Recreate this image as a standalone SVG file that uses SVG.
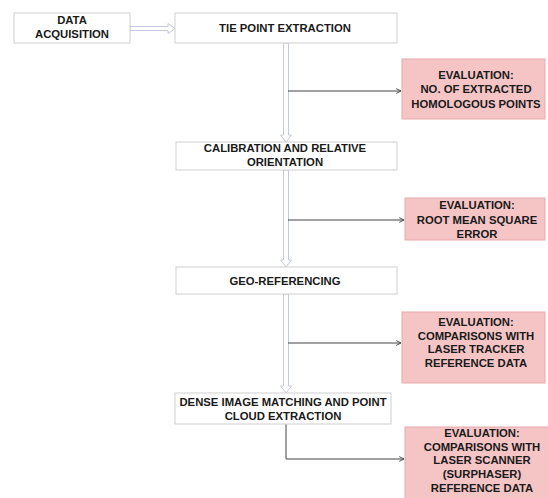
<svg xmlns="http://www.w3.org/2000/svg" width="548" height="498" viewBox="0 0 548 498">
<defs>
<style>
.box{fill:#ffffff;stroke:#cfcfcf;stroke-width:1}
.ev{fill:#f5c5c6;stroke:#e6aaab;stroke-width:1}
.t{font-family:"Liberation Sans",Arial,sans-serif;font-weight:bold;font-size:11.3px;fill:#1a1a1a;text-anchor:middle}
.hollow{fill:#ffffff;stroke:#c3cade;stroke-width:1}
.thin{fill:none;stroke:#444444;stroke-width:1}
</style>
<marker id="ah" viewBox="0 0 10 10" refX="9" refY="5" markerWidth="6" markerHeight="6" orient="auto" markerUnits="userSpaceOnUse">
<path d="M1,1 L9,5 L1,9" fill="none" stroke="#444444" stroke-width="1.5"/>
</marker>
</defs>
<rect width="548" height="498" fill="#ffffff"/>
<g id="connectors">
<path class="hollow" d="M130,26.5 H168 V23.5 L175,28.5 L168,33.5 V30.5 H130 Z"/>
<path class="hollow" d="M283.5,43 H288.5 V135 H291.5 L286,142 L280.5,135 H283.5 Z"/>
<path class="hollow" d="M283.5,170 H288.5 V260 H291.5 L286,267 L280.5,260 H283.5 Z"/>
<path class="hollow" d="M283.5,294 H288.5 V386 H291.5 L286,393 L280.5,386 H283.5 Z"/>
<path class="thin" d="M288,91 H401" marker-end="url(#ah)"/>
<path class="thin" d="M288,220 H404" marker-end="url(#ah)"/>
<path class="thin" d="M288,343 H401" marker-end="url(#ah)"/>
<path class="thin" d="M286,424 V459 H404" marker-end="url(#ah)"/>
</g>
<g id="data-acquisition">
<rect class="box" x="14" y="13" width="116" height="30"/>
<text class="t" x="72" y="24">DATA</text>
<text class="t" x="72" y="38">ACQUISITION</text>
</g>
<g id="tie-point">
<rect class="box" x="175" y="13" width="222" height="30"/>
<text class="t" x="285" y="32">TIE POINT EXTRACTION</text>
</g>
<g id="eval-1">
<rect class="ev" x="402" y="59" width="143" height="60"/>
<text class="t" x="476" y="79">EVALUATION:</text>
<text class="t" x="476" y="93">NO. OF EXTRACTED</text>
<text class="t" x="476" y="108">HOMOLOGOUS POINTS</text>
</g>
<g id="calibration">
<rect class="box" x="176" y="142" width="221" height="28"/>
<text class="t" x="285" y="152">CALIBRATION AND RELATIVE</text>
<text class="t" x="285" y="166">ORIENTATION</text>
</g>
<g id="eval-2">
<rect class="ev" x="405" y="198" width="140" height="42"/>
<text class="t" x="477" y="209">EVALUATION:</text>
<text class="t" x="477" y="224">ROOT MEAN SQUARE</text>
<text class="t" x="477" y="238">ERROR</text>
</g>
<g id="geo-referencing">
<rect class="box" x="176" y="267" width="221" height="27"/>
<text class="t" x="285" y="285">GEO-REFERENCING</text>
</g>
<g id="eval-3">
<rect class="ev" x="402" y="312" width="143" height="71"/>
<text class="t" x="476" y="326">EVALUATION:</text>
<text class="t" x="476" y="340">COMPARISONS WITH</text>
<text class="t" x="476" y="353">LASER TRACKER</text>
<text class="t" x="476" y="367">REFERENCE DATA</text>
</g>
<g id="dense-matching">
<rect class="box" x="175" y="393" width="216" height="31"/>
<text class="t" x="283" y="406">DENSE IMAGE MATCHING AND POINT</text>
<text class="t" x="283" y="420">CLOUD EXTRACTION</text>
</g>
<g id="eval-4">
<rect class="ev" x="405" y="427" width="145" height="75"/>
<text class="t" x="482" y="437">EVALUATION:</text>
<text class="t" x="482" y="451">COMPARISONS WITH</text>
<text class="t" x="482" y="464">LASER SCANNER</text>
<text class="t" x="482" y="478">(SURPHASER)</text>
<text class="t" x="482" y="492">REFERENCE DATA</text>
</g>
</svg>
